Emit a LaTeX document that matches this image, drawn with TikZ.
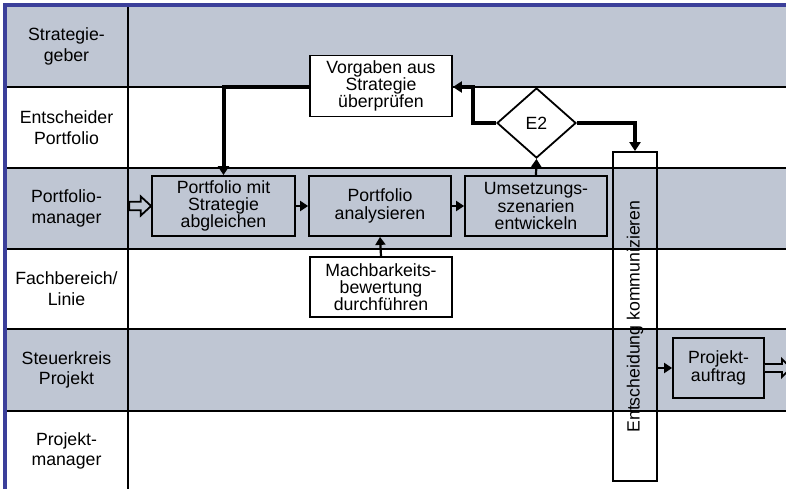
\documentclass[tikz,border=0pt]{standalone}
\usepackage{fontspec}
\setmainfont{Liberation Sans}
\usetikzlibrary{arrows.meta,shapes.geometric}
\definecolor{lanegray}{HTML}{BFC6D3}
\definecolor{frameblue}{HTML}{3B3F9A}

\begin{document}
\begin{tikzpicture}[x=1pt,y=-1pt,
  lanelabel/.style={align=center,inner sep=0pt,font=\fontsize{17.7}{20.7}\selectfont},
  lanerule/.style={line width=2.2pt},
  taskbox/.style={draw,rectangle,line width=1.8pt,minimum width=142pt,minimum height=60pt,
    inner sep=0pt,align=center,font=\fontsize{17.7}{17.3}\selectfont},
  decision/.style={draw,diamond,line width=1.8pt,fill=white,minimum width=79pt,minimum height=70pt,
    inner sep=0pt,font=\fontsize{17.7}{17.3}\selectfont},
  flow/.style={line width=2.2pt,-{Triangle[length=8pt,width=10pt]}},
  mainflow/.style={line width=4pt,-{Triangle[length=9pt,width=11pt]}},
  openarrow/.style={draw,line width=1.8pt,fill=lanegray,line join=miter}
]
\clip (0,0) rectangle (786,489);
\fill[white] (0,0) rectangle (786,489);

% swimlane bands
\fill[lanegray] (5,6) rectangle (786,87);
\fill[lanegray] (5,168) rectangle (786,249);
\fill[lanegray] (5,329) rectangle (786,411);

% lane separators and header column
\foreach \yy in {87,168,249,329,411}
  \draw[lanerule] (5,\yy) -- (786,\yy);
\draw[line width=2.5pt] (128,6) -- (128,492);

% outer frame
\fill[frameblue] (3,3) rectangle (786,7.3);
\fill[frameblue] (3,3) rectangle (6.5,492);

% lane titles
\node[lanelabel] (l1) at (66.5,46.5) {Strategie-\\geber};
\node[lanelabel] (l2) at (66.5,127.5) {Entscheider\\Portfolio};
\node[lanelabel] (l3) at (66.5,208.5) {Portfolio-\\manager};
\node[lanelabel] (l4) at (66.5,289) {Fachbereich/\\Linie};
\node[lanelabel] (l5) at (66.5,370) {Steuerkreis\\Projekt};
\node[lanelabel] (l6) at (66.5,451) {Projekt-\\manager};

% activities
\node[taskbox,fill=white,minimum height=61pt] (vorg) at (381,86) {Vorgaben aus\\Strategie\\überprüfen};
\node[taskbox,fill=lanegray,minimum width=143pt] (pms) at (223.5,206) {Portfolio mit\\Strategie\\abgleichen};
\node[taskbox,fill=lanegray] (pan) at (380,206) {Portfolio\\analysieren};
\node[taskbox,fill=lanegray] (ums) at (536,206) {Umsetzungs-\\szenarien\\entwickeln};
\node[taskbox,fill=white] (mach) at (381,287) {Machbarkeits-\\bewertung\\durchführen};
\node[decision] (e2) at (536.5,123) {E2};
\node[taskbox,minimum width=44pt,minimum height=329pt] (komm) at (635,316.5) {};
\node[rotate=90,inner sep=0pt,font=\fontsize{17.7}{17.3}\selectfont] (kommtext) at (komm.center) {Entscheidung kommunizieren};
\node[taskbox,fill=lanegray,minimum width=91pt] (proj) at (718.5,368) {Projekt-\\auftrag};

% bend points of the decision branches
\coordinate (bendL) at (473,87);

% connectors
\draw[mainflow] (vorg.west |- 0,87) -| (pms.north);
\draw[flow] (pms.east) -- (pan.west);
\draw[flow] (pan.east) -- (ums.west);
\draw[flow] (mach.north) -- (pan.south);
\draw[flow] (ums.north) -- (e2.south);
\draw[mainflow] (e2.west) -| (bendL) -- (vorg.east |- bendL);
\draw[mainflow] (e2.east) -| (komm.north);
\draw[flow] (komm.east |- proj.west) -- (proj.west);

% process entry and exit
\draw[openarrow] (pms.west) -- ++(-10.3,-9.5) -- ++(0,5.3) -- ++(-11.7,0) -- ++(0,8.4)
  -- ++(11.7,0) -- ++(0,5.3) -- cycle;
\draw[openarrow] (proj.east) ++(0,-4) -- ++(17,0) -- ++(0,-5) -- ++(9,9) -- ++(-9,9)
  -- ++(0,-5) -- ++(-17,0);
\end{tikzpicture}
\end{document}
